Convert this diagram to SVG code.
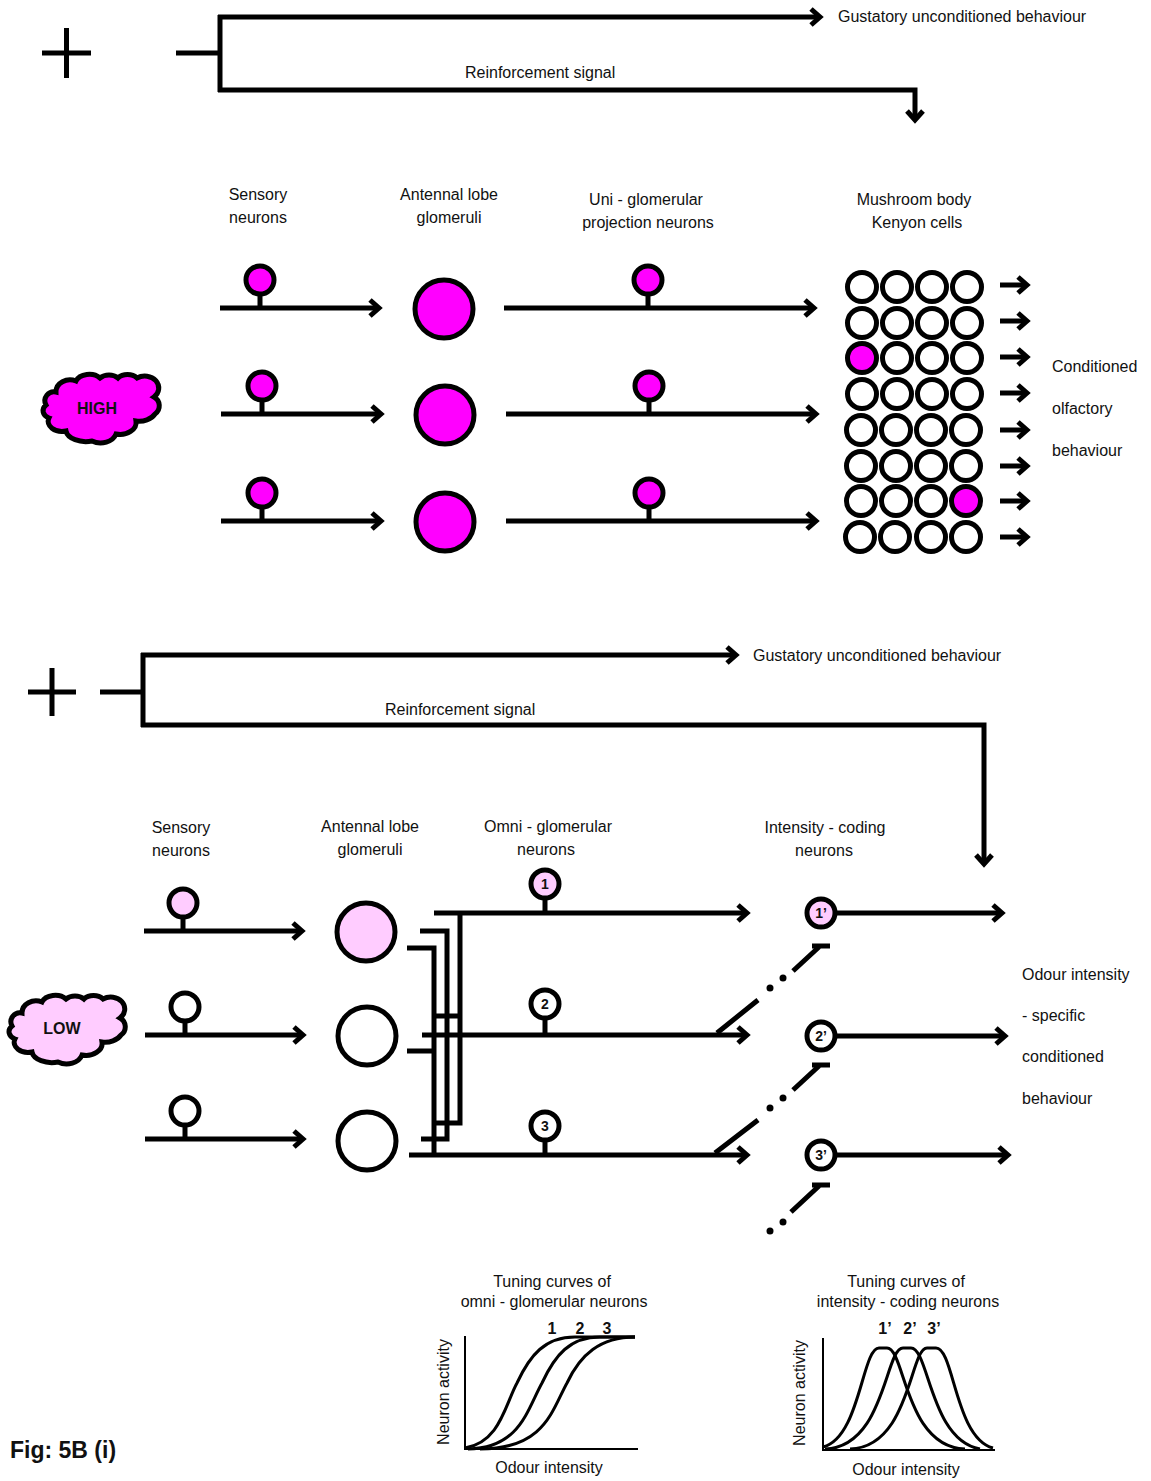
<svg xmlns="http://www.w3.org/2000/svg" xmlns:xlink="http://www.w3.org/1999/xlink" width="1151" height="1481" viewBox="0 0 1151 1481">
<style>
text{font-family:"Liberation Sans",Arial,sans-serif;font-size:16px;fill:#111}
.m{text-anchor:middle}
.b{font-weight:bold}
.n{font-size:14px;font-weight:bold;text-anchor:middle}
.l{fill:none;stroke:#000;stroke-width:5}
.a{fill:none;stroke:#000;stroke-width:5;marker-end:url(#ah)}
.c{fill:#fff;stroke:#000;stroke-width:5}
.hi{fill:#f0f;stroke:#000;stroke-width:5}
.lo{fill:#fcf;stroke:#000;stroke-width:5}
.t{fill:none;stroke:#000;stroke-width:3}
.ax{fill:none;stroke:#000;stroke-width:2}
.d{fill:#000}
</style>
<defs>
<marker id="ah" markerUnits="userSpaceOnUse" markerWidth="30" markerHeight="30" refX="15" refY="15" orient="auto" viewBox="0 0 30 30"><path d="M6 7L15 15L6 23" fill="none" stroke="#000" stroke-width="5"/></marker>
<path id="cloud" d="M56 392A14 12 0 0 1 76 381A14 10 0 0 1 100 378A12 9 0 0 1 118 378A12 9 0 0 1 137 378A14 12 0 0 1 154 397A10 10 0 0 1 155 414A18 14 0 0 1 136 421A16 12 0 0 1 116 434A16 12 0 0 1 92 441A20 12 0 0 1 66 431A14 10 0 0 1 49 418A10 8 0 0 1 46 405A9 9 0 0 1 56 392Z"/>
</defs>

<g id="connectors">
<path class="l" d="M42 53H91M66.500 28V78"/>
<path class="l" d="M176 53H220"/>
<path class="a" d="M218 17H820"/>
<path class="l" d="M220 15V92"/>
<path class="a" d="M218 90H915V120"/>
<path class="l" d="M28 692H76M52 668V716"/>
<path class="l" d="M100 692H143"/>
<path class="a" d="M141 655H736"/>
<path class="l" d="M143 653V727"/>
<path class="a" d="M141 725H984V864"/>

<path class="a" d="M220 308H379"/><path class="a" d="M221 414H381"/><path class="a" d="M221 521H381"/>
<path class="a" d="M504 308H814"/><path class="a" d="M506 414H816"/><path class="a" d="M506 521H816"/>
<path class="l" d="M260 294V308M262 400V414M262 507V521M648 294V308M649 400V414M649 507V521"/>
<path class="a" d="M1000 285H1027"/><path class="a" d="M1000 321H1027"/><path class="a" d="M1000 357H1027"/><path class="a" d="M1000 393H1027"/><path class="a" d="M1000 430H1027"/><path class="a" d="M1000 466H1027"/><path class="a" d="M1000 501H1027"/><path class="a" d="M1000 537H1027"/>

<path class="a" d="M144 931H302"/><path class="a" d="M145 1035H303"/><path class="a" d="M145 1139H303"/>
<path class="l" d="M183 917V931M185 1021V1035M185 1125V1139"/>
<path class="a" d="M434 913H747"/><path class="a" d="M422 1035H747"/><path class="a" d="M409 1155H747"/>
<path class="l" d="M545 898V913M545 1018V1035M545 1140V1155"/>
<path class="l" d="M460 913V1123H434M420 931H447V1139H421M407 948H434V1155M434 1016H460M407 1051H434"/>
<path class="a" d="M835 913H1002"/><path class="a" d="M835 1036H1005"/><path class="a" d="M835 1155H1008"/>

<path class="l" d="M717 1033L758 1000M793 971L819 947M812 946H830"/>
<circle class="d" cx="770" cy="988" r="3.500"/><circle class="d" cx="783" cy="978" r="3.500"/>
<path class="l" d="M715 1153L758 1120M793 1090L819 1066M812 1065H830"/>
<circle class="d" cx="770" cy="1108" r="3.500"/><circle class="d" cx="783" cy="1098" r="3.500"/>
<path class="l" d="M791 1212L819 1186M812 1185H830"/>
<circle class="d" cx="783" cy="1222" r="3.500"/><circle class="d" cx="770" cy="1231" r="3.500"/>
</g>

<g id="top-plus-labels">
<text x="838" y="22">Gustatory unconditioned behaviour</text>
<text x="465" y="78">Reinforcement signal</text>
<text class="m" x="258" y="200">Sensory</text><text class="m" x="258" y="223">neurons</text>
<text class="m" x="449" y="200">Antennal lobe</text><text class="m" x="449" y="223">glomeruli</text>
<text class="m" x="646" y="205">Uni - glomerular</text><text class="m" x="648" y="228">projection neurons</text>
<text class="m" x="914" y="205">Mushroom body</text><text class="m" x="917" y="228">Kenyon cells</text>
<text x="1052" y="372">Conditioned</text><text x="1052" y="414">olfactory</text><text x="1052" y="456">behaviour</text>
</g>

<g id="high-cloud"><use href="#cloud" class="hi"/><text class="b m" x="97" y="414">HIGH</text></g>
<g id="sensory-high">
<circle class="hi" cx="260" cy="280" r="14"/><circle class="hi" cx="262" cy="386" r="14"/><circle class="hi" cx="262" cy="493" r="14"/>
</g>
<g id="glomeruli-high">
<circle class="hi" cx="444" cy="309" r="29"/><circle class="hi" cx="445" cy="415" r="29"/><circle class="hi" cx="445" cy="522" r="29"/>
</g>
<g id="pn-high">
<circle class="hi" cx="648" cy="280" r="14"/><circle class="hi" cx="649" cy="386" r="14"/><circle class="hi" cx="649" cy="493" r="14"/>
</g>
<g id="kenyon-cells">
<circle class="c" cx="862" cy="287" r="14.500"/><circle class="c" cx="897" cy="287" r="14.500"/><circle class="c" cx="932" cy="287" r="14.500"/><circle class="c" cx="967" cy="287" r="14.500"/>
<circle class="c" cx="862" cy="323" r="14.500"/><circle class="c" cx="897" cy="323" r="14.500"/><circle class="c" cx="932" cy="323" r="14.500"/><circle class="c" cx="967" cy="323" r="14.500"/>
<circle class="hi" cx="862" cy="358" r="14.500"/><circle class="c" cx="897" cy="358" r="14.500"/><circle class="c" cx="932" cy="358" r="14.500"/><circle class="c" cx="967" cy="358" r="14.500"/>
<circle class="c" cx="862" cy="394" r="14.500"/><circle class="c" cx="897" cy="394" r="14.500"/><circle class="c" cx="932" cy="394" r="14.500"/><circle class="c" cx="967" cy="394" r="14.500"/>
<circle class="c" cx="861" cy="430" r="14.500"/><circle class="c" cx="896" cy="430" r="14.500"/><circle class="c" cx="931" cy="430" r="14.500"/><circle class="c" cx="966" cy="430" r="14.500"/>
<circle class="c" cx="861" cy="466" r="14.500"/><circle class="c" cx="896" cy="466" r="14.500"/><circle class="c" cx="931" cy="466" r="14.500"/><circle class="c" cx="966" cy="466" r="14.500"/>
<circle class="c" cx="861" cy="501" r="14.500"/><circle class="c" cx="896" cy="501" r="14.500"/><circle class="c" cx="931" cy="501" r="14.500"/><circle class="hi" cx="966" cy="501" r="14.500"/>
<circle class="c" cx="860" cy="537" r="14.500"/><circle class="c" cx="895" cy="537" r="14.500"/><circle class="c" cx="931" cy="537" r="14.500"/><circle class="c" cx="966" cy="537" r="14.500"/>
</g>

<g id="bottom-labels">
<text x="753" y="661">Gustatory unconditioned behaviour</text>
<text x="385" y="715">Reinforcement signal</text>
<text class="m" x="181" y="833">Sensory</text><text class="m" x="181" y="856">neurons</text>
<text class="m" x="370" y="832">Antennal lobe</text><text class="m" x="370" y="855">glomeruli</text>
<text class="m" x="548" y="832">Omni - glomerular</text><text class="m" x="546" y="855">neurons</text>
<text class="m" x="825" y="833">Intensity - coding</text><text class="m" x="824" y="856">neurons</text>
<text x="1022" y="980">Odour intensity</text><text x="1022" y="1021">- specific</text><text x="1022" y="1062">conditioned</text><text x="1022" y="1104">behaviour</text>
</g>

<g id="low-cloud"><use href="#cloud" class="lo" transform="translate(-34 621)"/><text class="b m" x="62" y="1034">LOW</text></g>
<g id="sensory-low">
<circle class="lo" cx="183" cy="903" r="14"/><circle class="c" cx="185" cy="1007" r="14"/><circle class="c" cx="185" cy="1111" r="14"/>
</g>
<g id="glomeruli-low">
<circle class="lo" cx="366" cy="932" r="29"/><circle class="c" cx="367" cy="1036" r="29"/><circle class="c" cx="367" cy="1141" r="29"/>
</g>
<g id="omni-1"><circle class="lo" cx="545" cy="884" r="14"/><text class="n" x="545" y="889">1</text></g>
<g id="omni-2"><circle class="c" cx="545" cy="1004" r="14"/><text class="n" x="545" y="1009">2</text></g>
<g id="omni-3"><circle class="c" cx="545" cy="1126" r="14"/><text class="n" x="545" y="1131">3</text></g>
<g id="intensity-1"><circle class="lo" cx="821" cy="913" r="14"/><text class="n" x="821" y="918">1’</text></g>
<g id="intensity-2"><circle class="c" cx="821" cy="1036" r="14"/><text class="n" x="821" y="1041">2’</text></g>
<g id="intensity-3"><circle class="c" cx="821" cy="1155" r="14"/><text class="n" x="821" y="1160">3’</text></g>

<g id="tuning-omni">
<text class="m" x="552" y="1287">Tuning curves of</text><text class="m" x="554" y="1307">omni - glomerular neurons</text>
<text class="n" x="552" y="1334" style="font-size:16px">1</text><text class="n" x="580" y="1334" style="font-size:16px">2</text><text class="n" x="607" y="1334" style="font-size:16px">3</text>
<path class="ax" d="M465 1336V1449H638"/>
<path class="t" d="M465 1448C500 1442 505 1405 517 1383C530 1355 545 1337 575 1337H635"/>
<path class="t" d="M468 1449C520 1448 527 1410 542 1383C555 1355 570 1337 600 1337H635"/>
<path class="t" d="M480 1449C545 1449 552 1410 567 1383C580 1355 600 1337 635 1337"/>
<text class="m" transform="translate(449 1392) rotate(-90)">Neuron activity</text>
<text class="m" x="549" y="1473">Odour intensity</text>
</g>
<g id="tuning-intensity">
<text class="m" x="906" y="1287">Tuning curves of</text><text class="m" x="908" y="1307">intensity - coding neurons</text>
<text class="n" x="885" y="1334" style="font-size:16px">1’</text><text class="n" x="910" y="1334" style="font-size:16px">2’</text><text class="n" x="934" y="1334" style="font-size:16px">3’</text>
<path class="ax" d="M823 1338V1450H995"/>
<path class="t" d="M823 1447C860 1438 862 1348 879 1348H887C905 1348 905 1447 965 1449"/>
<path class="t" d="M825 1449C885 1447 885 1348 903 1348H911C929 1348 930 1440 980 1449"/>
<path class="t" d="M850 1449C910 1447 910 1348 927 1348H936C954 1348 955 1438 993 1448"/>
<text class="m" transform="translate(805 1393) rotate(-90)">Neuron activity</text>
<text class="m" x="906" y="1475">Odour intensity</text>
</g>
<text id="figure-label" class="b" x="10" y="1458" style="font-size:23px">Fig: 5B (i)</text>
</svg>
